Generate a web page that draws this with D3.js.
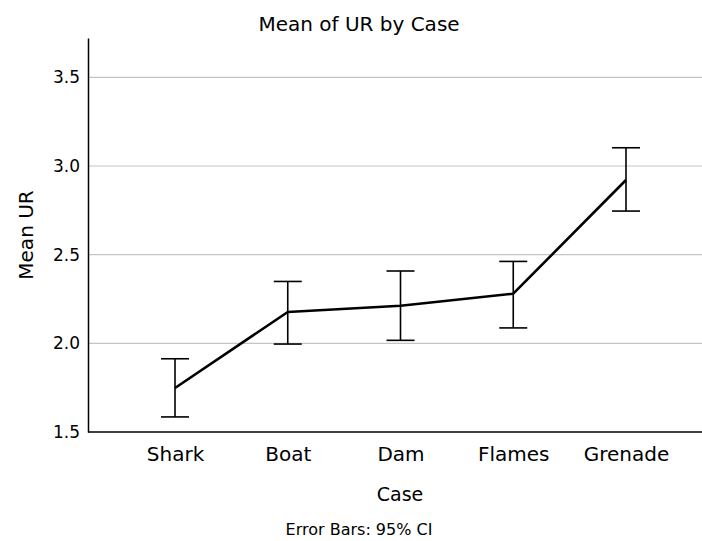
<!DOCTYPE html>
<html>
<head>
<meta charset="utf-8">
<script src="https://cdn.jsdelivr.net/npm/d3@7"></script>
<style>
  body { margin: 0; background: #fff; }
  text { font-family: "DejaVu Sans", sans-serif; fill: #000; }
</style>
</head>
<body>
<div id="chart"></div>
<script>
// data
const cases = ['Shark', 'Boat', 'Dam', 'Flames', 'Grenade'];
const means = [1.748, 2.177, 2.212, 2.280, 2.921];
const ciLow = [1.585, 1.996, 2.017, 2.087, 2.746];
const ciHigh = [1.913, 2.349, 2.408, 2.462, 3.103];
const yTicks = [1.5, 2.0, 2.5, 3.0, 3.5];

const width = 702, height = 541;
const plot = { left: 88, right: 702, top: 38, bottom: 432 };

const svg = d3.select('#chart').append('svg')
    .attr('width', width)
    .attr('height', height);

const x = d3.scalePoint()
    .domain(cases)
    .range([175, 626]);

const y = d3.scaleLinear()
    .domain([1.5, 3.722])
    .range([plot.bottom, plot.top]);

// gridlines
svg.append('g')
    .selectAll('line')
    .data(yTicks.slice(1))
    .enter()
    .append('line')
    .attr('x1', plot.left)
    .attr('x2', plot.right)
    .attr('y1', d => y(d))
    .attr('y2', d => y(d))
    .attr('stroke', '#c4c4c4')
    .attr('stroke-width', 1.2);

// y axis
const yAxis = svg.append('g')
    .attr('transform', `translate(${plot.left},0)`)
    .call(d3.axisLeft(y).tickValues(yTicks).tickFormat(d3.format('.1f')).tickSize(0).tickPadding(8));
yAxis.select('.domain').attr('stroke', '#000').attr('stroke-width', 1.5);
yAxis.selectAll('text').style('font-size', '17px');

// x axis
const xAxis = svg.append('g')
    .attr('transform', `translate(0,${plot.bottom})`)
    .call(d3.axisBottom(x).tickSize(0).tickPadding(15));
xAxis.select('.domain')
    .attr('d', `M${plot.left},0H${plot.right}`)
    .attr('stroke', '#000').attr('stroke-width', 1.5);
xAxis.selectAll('text').style('font-size', '20px');

// error bars
const capHalf = 14;
const bars = svg.append('g')
    .selectAll('g')
    .data(cases)
    .enter()
    .append('g')
    .attr('stroke', '#000')
    .attr('stroke-width', 1.6);

bars.append('line')
    .attr('x1', d => x(d)).attr('x2', d => x(d))
    .attr('y1', (d, i) => y(ciLow[i]))
    .attr('y2', (d, i) => y(ciHigh[i]));
bars.append('line')
    .attr('x1', d => x(d) - capHalf).attr('x2', d => x(d) + capHalf)
    .attr('y1', (d, i) => y(ciHigh[i]))
    .attr('y2', (d, i) => y(ciHigh[i]));
bars.append('line')
    .attr('x1', d => x(d) - capHalf).attr('x2', d => x(d) + capHalf)
    .attr('y1', (d, i) => y(ciLow[i]))
    .attr('y2', (d, i) => y(ciLow[i]));

// mean line
const line = d3.line()
    .x((d, i) => x(cases[i]))
    .y(d => y(d));

svg.append('path')
    .datum(means)
    .attr('d', line)
    .attr('fill', 'none')
    .attr('stroke', '#000')
    .attr('stroke-width', 2.6)
    .attr('stroke-linejoin', 'round');

// titles
svg.append('text')
    .attr('x', 359).attr('y', 31)
    .attr('text-anchor', 'middle')
    .style('font-size', '20px')
    .text('Mean of UR by Case');

svg.append('text')
    .attr('x', 400).attr('y', 501)
    .attr('text-anchor', 'middle')
    .style('font-size', '19px')
    .text('Case');

svg.append('text')
    .attr('transform', `translate(33,${(plot.top + plot.bottom) / 2}) rotate(-90)`)
    .attr('text-anchor', 'middle')
    .style('font-size', '20px')
    .text('Mean UR');

svg.append('text')
    .attr('x', 359).attr('y', 535)
    .attr('text-anchor', 'middle')
    .style('font-size', '16px')
    .text('Error Bars: 95% CI');
</script>
</body>
</html>
